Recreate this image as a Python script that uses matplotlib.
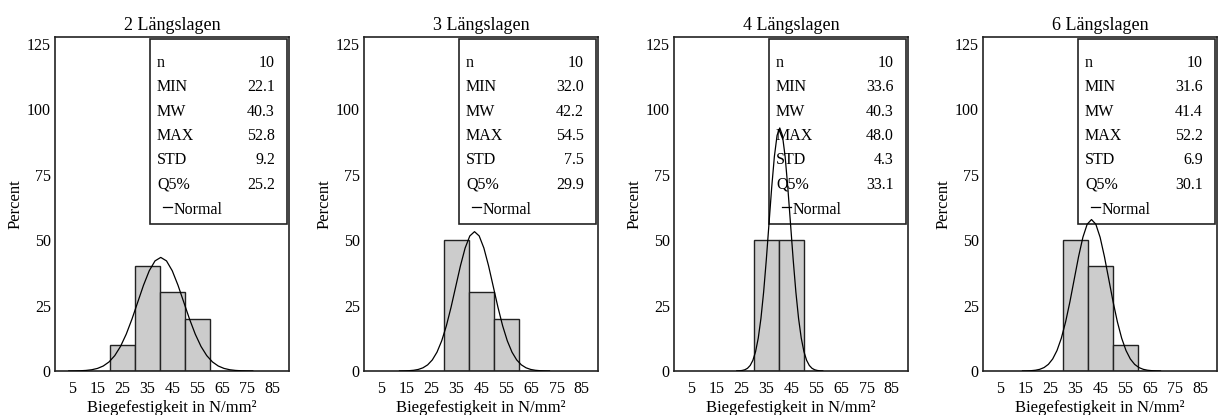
import numpy as np
import matplotlib
matplotlib.use("Agg")
import matplotlib.pyplot as plt
from matplotlib.patches import Rectangle

plt.rcParams["font.family"] = ["Liberation Serif", "DejaVu Serif"]

# data
titles = ["2 Längslagen", "3 Längslagen", "4 Längslagen", "6 Längslagen"]
bin_lefts = [20, 30, 40, 50]
bin_width = 10
pct_2 = [10, 40, 30, 20]
pct_3 = [0, 50, 30, 20]
pct_4 = [0, 50, 50, 0]
pct_6 = [0, 50, 40, 10]
percents = [pct_2, pct_3, pct_4, pct_6]

n_vals = [10, 10, 10, 10]
min_vals = [22.1, 32.0, 33.6, 31.6]
mw_vals = [40.3, 42.2, 40.3, 41.4]
max_vals = [52.8, 54.5, 48.0, 52.2]
std_vals = [9.2, 7.5, 4.3, 6.9]
q5_vals = [25.2, 29.9, 33.1, 30.1]

xtick_vals = [5, 15, 25, 35, 45, 55, 65, 75, 85]
ytick_vals = [0, 25, 50, 75, 100, 125]

W, H = 1218, 415
fig = plt.figure(figsize=(W / 100, H / 100), dpi=100)
lefts = [55, 364, 674, 983]

for i in range(4):
    ax = fig.add_axes([lefts[i] / W, 44 / H, 234 / W, 334 / H])

    heights = percents[i]
    xs = [b for b, h in zip(bin_lefts, heights) if h > 0]
    hs = [h for h in heights if h > 0]
    ax.bar(xs, hs, width=bin_width, align="edge", color="#cccccc",
           edgecolor="#222222", linewidth=1, zorder=2)

    # fitted normal curve, scaled to percent per bin
    mw, sd = mw_vals[i], std_vals[i]
    xc = np.linspace(mw - 4 * sd, mw + 4 * sd, 33)
    yc = 100 * bin_width * np.exp(-0.5 * ((xc - mw) / sd) ** 2) / (sd * np.sqrt(2 * np.pi))
    ax.plot(xc, yc, color="black", linewidth=0.9, zorder=4)

    ax.set_xlim(-2, 91.6)
    ax.set_ylim(0, 127.5)
    ax.set_xticks(xtick_vals)
    ax.set_yticks(ytick_vals)
    ax.tick_params(length=0, labelsize=11.5)
    ax.tick_params(axis="x", pad=7)
    ax.tick_params(axis="y", pad=3)
    for s in ax.spines.values():
        s.set_linewidth(1.2)
        s.set_color("#222222")

    ax.set_title(titles[i], fontsize=13, pad=5)
    ax.set_xlabel("Biegefestigkeit in N/mm²", fontsize=12)
    ax.set_ylabel("Percent", fontsize=12)
    ax.xaxis.set_label_coords(0.5, -0.087)
    ax.yaxis.set_label_coords(-0.135, 0.5)

    # statistics box
    ax.add_patch(Rectangle((0.406, 0.44), 0.584, 0.554, transform=ax.transAxes,
                           facecolor="white", edgecolor="#222222", linewidth=1.2, zorder=3))
    labels = ["n", "MIN", "MW", "MAX", "STD", "Q5%"]
    values = [str(n_vals[i]), f"{min_vals[i]:.1f}", f"{mw_vals[i]:.1f}",
              f"{max_vals[i]:.1f}", f"{std_vals[i]:.1f}", f"{q5_vals[i]:.1f}"]
    for r, (lab, val) in enumerate(zip(labels, values)):
        y = 0.922 - r * 0.0728
        ax.text(0.436, y, lab, transform=ax.transAxes, fontsize=11.5,
                va="center", ha="left", zorder=3.5)
        ax.text(0.94, y, val, transform=ax.transAxes, fontsize=11.5,
                va="center", ha="right", zorder=3.5)
    yn = 0.482
    ax.plot([0.463, 0.50], [yn + 0.01, yn + 0.01], transform=ax.transAxes,
            color="black", linewidth=0.9, zorder=3.5)
    ax.text(0.505, yn, "Normal", transform=ax.transAxes, fontsize=11.5,
            va="center", ha="left", zorder=3.5)

fig.savefig("out.png", dpi=100)
